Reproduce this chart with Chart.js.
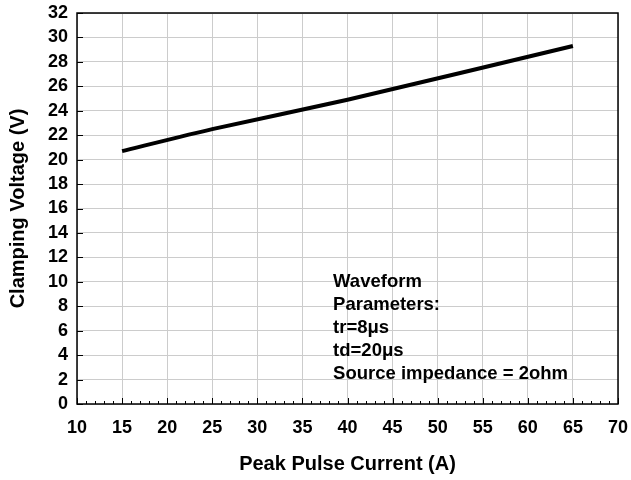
<!DOCTYPE html>
<html>
<head>
<meta charset="utf-8">
<script src="https://cdn.jsdelivr.net/npm/chart.js@4.4.0/dist/chart.umd.min.js"></script>
<style>
  html, body { margin: 0; padding: 0; background: #fff; }
  canvas { display: block; }
</style>
</head>
<body>
<canvas id="myChart" width="631" height="480"></canvas>
<script>
"use strict";

// data
var currentA = [15, 25, 40, 65];
var clampV = [20.7, 22.5, 24.9, 29.3];
var noteLines = ['Waveform', 'Parameters:', 'tr=8\u03BCs', 'td=20\u03BCs', 'Source impedance = 2ohm'];

var FONT = '"Liberation Sans", Arial, sans-serif';

// inward tick marks, minor x ticks, frame and the note text
var decorate = {
    id: 'decorate',
    afterDraw: function (chart) {
        var c = chart.ctx, a = chart.chartArea;
        var x = chart.scales.x, y = chart.scales.y;
        c.save();
        c.strokeStyle = '#000';
        c.lineWidth = 1;
        c.beginPath();
        for (var v = 10; v <= 70; v++) {
            var px = Math.round(x.getPixelForValue(v)) + 0.5;
            var len = (v % 5 === 0) ? 6 : 3;
            c.moveTo(px, a.bottom);
            c.lineTo(px, a.bottom - len);
        }
        for (var w = 0; w <= 32; w += 2) {
            var py = Math.round(y.getPixelForValue(w)) + 0.5;
            c.moveTo(a.left, py);
            c.lineTo(a.left + 6, py);
        }
        c.stroke();
        c.lineWidth = 1.5;
        c.strokeRect(a.left, a.top, a.right - a.left, a.bottom - a.top);

        c.fillStyle = '#000';
        c.font = 'bold 18.5px ' + FONT;
        c.textBaseline = 'middle';
        c.textAlign = 'left';
        var tx = x.getPixelForValue(38.4);
        var ty = y.getPixelForValue(10);
        noteLines.forEach(function (s, i) {
            c.fillText(s, tx, ty + i * 23);
        });
        c.restore();
    }
};

var ctx = document.getElementById('myChart').getContext('2d');
var chart = new Chart(ctx, {
    type: 'line',
    data: {
        datasets: [{
            data: currentA.map(function (v, i) { return { x: v, y: clampV[i] }; }),
            borderColor: '#000',
            borderWidth: 4,
            pointRadius: 0,
            tension: 0.2,
            fill: false
        }]
    },
    options: {
        responsive: false,
        animation: false,
        layout: { padding: { top: 13, right: 13, left: 0, bottom: 0 } },
        plugins: {
            legend: { display: false },
            tooltip: { enabled: false }
        },
        scales: {
            x: {
                type: 'linear',
                min: 10,
                max: 70,
                afterFit: function (s) {
                    s.height = 76;
                    s.paddingLeft = 0;
                    s.paddingRight = 0;
                },
                ticks: {
                    stepSize: 5,
                    autoSkip: false,
                    color: '#000',
                    padding: 13,
                    maxRotation: 0,
                    font: { family: FONT, size: 18, weight: 'bold' }
                },
                grid: { color: '#cccccc', drawTicks: false },
                border: { display: false },
                title: {
                    display: true,
                    text: 'Peak Pulse Current (A)',
                    color: '#000',
                    padding: { top: 16 },
                    font: { family: FONT, size: 20, weight: 'bold' }
                }
            },
            y: {
                min: 0,
                max: 32,
                afterFit: function (s) {
                    s.width = 77;
                    s.paddingTop = 0;
                    s.paddingBottom = 0;
                },
                ticks: {
                    stepSize: 2,
                    autoSkip: false,
                    color: '#000',
                    padding: 9,
                    font: { family: FONT, size: 18, weight: 'bold' }
                },
                grid: { color: '#cccccc', drawTicks: false },
                border: { display: false },
                title: {
                    display: true,
                    text: 'Clamping Voltage (V)',
                    color: '#000',
                    padding: { top: 6, bottom: 0 },
                    font: { family: FONT, size: 20, weight: 'bold' }
                }
            }
        }
    },
    plugins: [decorate]
});
</script>
</body>
</html>
